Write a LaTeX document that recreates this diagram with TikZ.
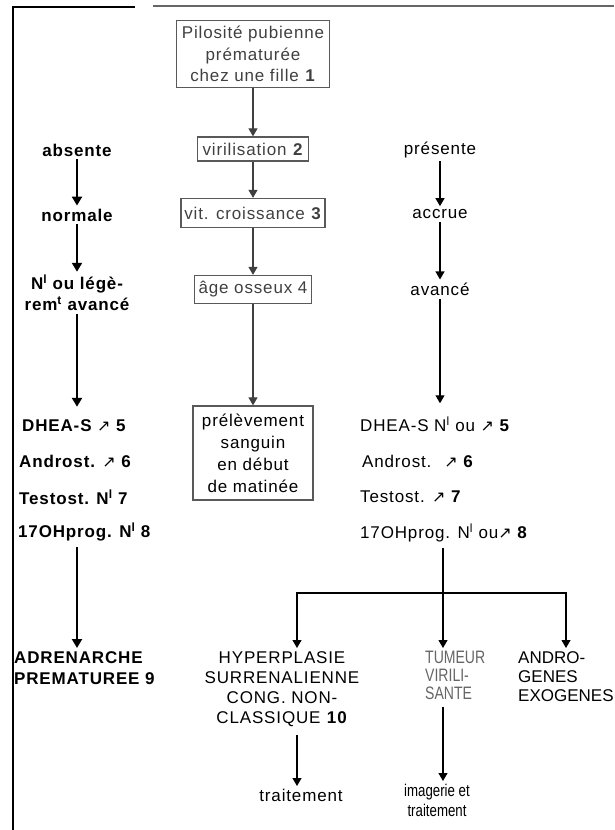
\documentclass[tikz,border=0pt]{standalone}
\usepackage{fontspec}
\setmainfont{Liberation Sans}[LetterSpace=5]
\newfontfamily\tightsans{Liberation Sans}
\newfontfamily\narrowsans{Liberation Sans}[FakeStretch=0.78]
\newfontfamily\arrowfont{DejaVu Sans}
\usepackage{tikz}
\usetikzlibrary{positioning, arrows.meta, calc}

\newcommand{\incr}{{\arrowfont\mdseries\fontsize{16}{16}\selectfont ↗}}
\newcommand{\nsup}{N\textsuperscript{l}}

\begin{document}
\begin{tikzpicture}[
    x=1pt, y=-1pt,
    every node/.style={font=\fontsize{17}{20}\selectfont, inner sep=3pt},
    box/.style={draw=black!65, line width=1.3pt, text=black!75, align=center, inner sep=2pt},
    lefttxt/.style={font=\fontsize{17}{21}\selectfont\bfseries, align=center},
    listitem/.style={anchor=west, inner sep=3pt},
    fatarrow/.style={-{Triangle[width=10pt,length=9pt]}, line width=2.2pt},
    midarrow/.style={-{Triangle[width=9pt,length=8pt]}, line width=1.2pt, black!75},
    thinarrow/.style={-{Triangle[width=9pt,length=8pt]}, line width=1.1pt},
    frame/.style={line width=2.6pt},
]
\useasboundingbox (0,0) rectangle (614,830);

% page frame
\draw[frame] (135,7) -- (13,7) -- (13,830);
\draw[frame, black!60] (153,6) -- (614,6);

% middle column
\node[box, minimum width=153pt, minimum height=67pt, font=\fontsize{17}{21.5}\selectfont] (pilosite) at (253,54) {Pilosité pubienne\\prématurée\\chez une fille \textbf{1}};
\node[box, minimum width=111pt, minimum height=24pt] (viril) at (253,149) {virilisation \textbf{2}};
\node[box, minimum width=144pt, minimum height=29pt] (vitesse) at (253,213) {vit. croissance \textbf{3}};
\node[box, minimum width=117pt, minimum height=28pt] (ageos) at (253,289.5) {âge osseux 4};
\node[box, minimum width=120pt, minimum height=94pt, text=black, font=\fontsize{17}{22}\selectfont] (prelev) at (253,453) {prélèvement\\sanguin\\en début\\de matinée};

\draw[midarrow] (pilosite) -- (viril);
\draw[midarrow] (viril) -- (vitesse);
\draw[midarrow] (vitesse) -- (ageos);
\draw[midarrow] (ageos) -- (prelev);

% left column
\node[lefttxt] (absente) at (77,150) {absente};
\node[lefttxt] (normale) at (77,215) {normale};
\node[lefttxt] (legere) at (77,293) {\nsup{} ou légè-\\rem\textsuperscript{t} avancé};

\node[lefttxt, listitem] (dheaL) at (19,426) {DHEA-S \incr{} 5};
\node[lefttxt, listitem] (androL) at (16,461) {Androst. \incr{} 6};
\node[lefttxt, listitem] (testoL) at (16,497) {Testost. \nsup{} 7};
\node[lefttxt, listitem] (ohpL) at (15,532) {17OHprog. \nsup{} 8};

\node[lefttxt, align=left, anchor=north west] (adren) at (11,648) {ADRENARCHE\\PREMATUREE 9};

\draw[fatarrow] (absente) -- (normale);
\draw[fatarrow] (normale) -- (legere);
\draw[fatarrow, shorten >=10pt] (legere) -- (legere |- dheaL.north);
\draw[fatarrow, shorten <=3pt] (ohpL.south -| legere) -- (legere |- adren.north);

% right column
\node (presente) at (440,150) {présente};
\node (accrue) at (440,214) {accrue};
\node (avance) at (440,289) {avancé};

\node[listitem] (dheaR) at (357,424) {DHEA-S \nsup{} ou \incr{} \textbf{5}};
\node[listitem] (androR) at (359,461) {Androst. \ \incr{} \textbf{6}};
\node[listitem] (testoR) at (357,497) {Testost. \incr{} \textbf{7}};
\node[listitem] (ohpR) at (357,533) {17OHprog. \nsup{} ou\incr{} \textbf{8}};

\draw[thinarrow] (presente) -- (accrue);
\draw[thinarrow] (accrue) -- (avance);
\draw[thinarrow, shorten >=10pt] (avance) -- (avance |- dheaR.north);

% diagnoses
\coordinate (split) at (443,593);
\coordinate (hypJ) at (297,593);
\coordinate (andJ) at (566,593);

\node[align=center, anchor=north] (hyper) at (282,648) {HYPERPLASIE\\SURRENALIENNE\\CONG. NON-\\CLASSIQUE \textbf{10}};
\node[anchor=north west, align=left, font=\narrowsans\fontsize{18}{18}\selectfont, text=black!60] (tumeur) at (422,648) {TUMEUR\\VIRILI-\\SANTE};
\node[anchor=north west, align=left, font=\tightsans\fontsize{17}{19}\selectfont] (andro) at (515,648) {ANDRO-\\GENES\\EXOGENES};

\node[anchor=north] (traitA) at (301,786) {traitement};
\node[anchor=north, align=center, font=\narrowsans\fontsize{17}{20}\selectfont] (imagerie) at (437,781) {imagerie et\\traitement};

\draw[thinarrow, shorten <=3pt] (ohpR.south -| split) -- (split) -- (split |- tumeur.north);
\draw[thinarrow] (split) -- (hypJ) -- (hypJ |- hyper.north);
\draw[thinarrow] (split) -- (andJ) -- (andJ |- andro.north);
\draw[thinarrow, shorten <=6pt] (hyper.south -| hypJ) -- (traitA.north -| hypJ);
\draw[thinarrow, shorten <=4pt] (tumeur.south -| split) -- (imagerie.north -| split);

\end{tikzpicture}
\end{document}
